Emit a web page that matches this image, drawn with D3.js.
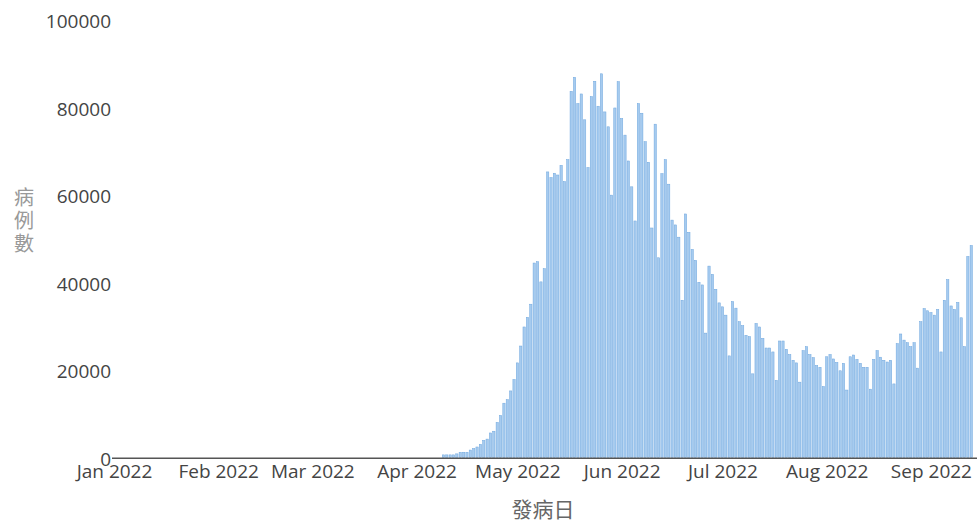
<!DOCTYPE html>
<html>
<head>
<meta charset="utf-8">
<script src="https://cdn.jsdelivr.net/npm/d3@7/dist/d3.min.js"></script>
<style>
  html, body { margin: 0; padding: 0; background: #fff; }
  svg { display: block; }
  text { font-family: "Open Sans", "Noto Sans", sans-serif; }
  .cjk { font-family: "Noto Sans CJK TC", "Noto Sans CJK SC", sans-serif; }
</style>
</head>
<body>
<svg id="chart" width="977" height="522"></svg>
<script>
// ---- data ----
const startDate = "2022-04-09";           // first onset date with cases
const dailyCases = [
  600, 600, 600, 600, 830, 1200, 1200, 1200, 1700, 2050,
  2400, 3000, 3900, 4200, 5600, 6000, 8000, 9600, 12400, 13200,
  15200, 17800, 21600, 25450, 29800, 32000, 35000, 44400, 44700, 40100,
  43100, 65200, 63900, 64900, 64500, 66700, 63000, 68000, 83600, 86800,
  80800, 83000, 77100, 66200, 82400, 85900, 80200, 87600, 78900, 75500,
  59900, 79800, 85800, 77400, 73600, 67700, 61800, 54000, 80800, 78600,
  72100, 67400, 52400, 76100, 45600, 64800, 68000, 62400, 54200, 53100,
  50300, 35900, 55600, 51400, 47500, 45000, 40000, 39400, 28400, 43700,
  41800, 38400, 35300, 34400, 32500, 23200, 35600, 34100, 31000, 30100,
  27900, 27600, 19100, 30600, 29800, 27200, 25000, 25000, 24100, 17600,
  26600, 26600, 24700, 23500, 22200, 21600, 17200, 24400, 25300, 23500,
  22800, 21000, 20600, 16200, 23000, 23500, 22500, 21700, 19800, 21500,
  15400, 23000, 23400, 22400, 21500, 20600, 20600, 15600, 22400, 24400,
  22900, 22200, 21800, 22200, 16800, 26000, 28200, 26800, 26200, 25300,
  26200, 20400, 31000, 34000, 33500, 33100, 32500, 33800, 24100, 35900,
  40600, 34600, 33800, 35400, 31900, 25300, 45900, 48400
];
const xDomain = ["2021-12-31T12:00:00Z", "2022-09-14T12:00:00Z"];
const xTickDates = ["2022-01-01", "2022-02-01", "2022-03-01", "2022-04-01", "2022-05-01",
                    "2022-06-01", "2022-07-01", "2022-08-01", "2022-09-01"];
const yTicks = [0, 20000, 40000, 60000, 80000, 100000];
const yMax = 100000;
const xTitle = "發病日";
const yTitle = ["病", "例", "數"];

// ---- build ----
const DAY = 86400000;
const start = new Date(startDate + "T00:00:00Z");
const rows = dailyCases.map((v, i) => ({ date: new Date(start.getTime() + i * DAY), value: v }));

const svg = d3.select("#chart");
const x = d3.scaleUtc().domain(xDomain.map(d => new Date(d))).range([112.3, 976.3]);
const y = d3.scaleLinear().domain([0, yMax]).range([457.5, 19.5]);

const dayW = x(new Date(start.getTime() + DAY)) - x(start);
const barW = dayW * 0.68;

svg.append("g").selectAll("rect").data(rows).join("rect")
  .attr("x", d => x(d.date) - barW / 2)
  .attr("y", d => y(d.value))
  .attr("width", barW)
  .attr("height", d => y(0) - y(d.value))
  .attr("fill", "#a6cbef")
  .attr("stroke", "#6ea6de")
  .attr("stroke-width", 0.5);

// x axis
const fmt = d3.utcFormat("%b %Y");
const xAxis = d3.axisBottom(x)
  .tickValues(xTickDates.map(d => new Date(d + "T00:00:00Z")))
  .tickFormat(fmt)
  .tickSize(0)
  .tickPadding(7);
const gx = svg.append("g").attr("transform", `translate(0,${y(0)})`).call(xAxis);
gx.select(".domain").remove();
gx.selectAll("text").attr("fill", "#444").style("font-size", "19px").attr("dy", "0.71em");
svg.append("line")
  .attr("x1", 112).attr("x2", 977)
  .attr("y1", y(0) + 0.75).attr("y2", y(0) + 0.75)
  .attr("stroke", "#555").attr("stroke-width", 1.5);

// y axis (labels only)
const yAxis = d3.axisLeft(y).tickValues(yTicks).tickFormat(d3.format("d")).tickSize(0).tickPadding(0);
const gy = svg.append("g").attr("transform", "translate(111,0)").call(yAxis);
gy.select(".domain").remove();
gy.selectAll("text").attr("fill", "#444").style("font-size", "19px").attr("dy", "0.42em");

// titles
svg.append("text").attr("class", "cjk")
  .attr("x", 543).attr("y", 517)
  .attr("text-anchor", "middle")
  .attr("fill", "#666").style("font-size", "21px")
  .text(xTitle);

const yt = svg.append("text").attr("class", "cjk")
  .attr("text-anchor", "middle")
  .attr("fill", "#999").style("font-size", "20px");
yt.selectAll("tspan").data(yTitle).join("tspan")
  .attr("x", 24)
  .attr("y", (d, i) => 205 + i * 23)
  .text(d => d);
</script>
</body>
</html>
